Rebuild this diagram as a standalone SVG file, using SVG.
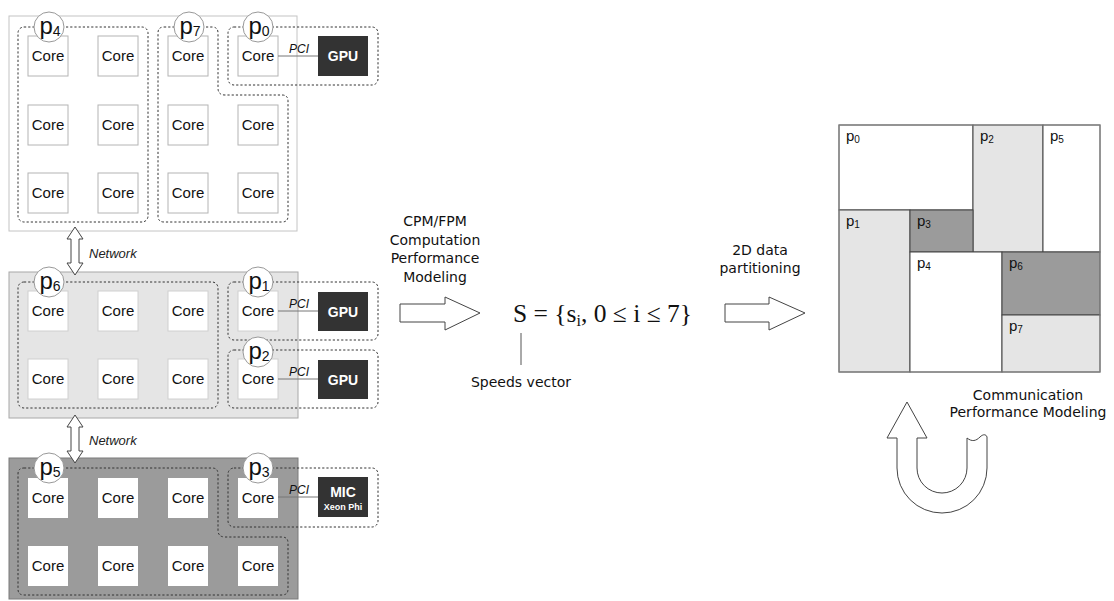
<svg xmlns="http://www.w3.org/2000/svg" width="1114" height="601" viewBox="0 0 1114 601">
<style>
.core{fill:#fff;stroke:#b4b4b4;stroke-width:1}
.ct{font-family:"Liberation Sans",Arial,sans-serif;font-size:15px;fill:#111;text-anchor:middle}
.reg{fill:none;stroke:#333;stroke-width:1;stroke-dasharray:2.2,2}
.pc{fill:#fff;stroke:#999;stroke-width:1}
.pl{font-family:"Liberation Sans",Arial,sans-serif;font-size:24px;fill:#111;text-anchor:middle}
.dev{fill:#333}
.dt{font-family:"Liberation Sans",Arial,sans-serif;font-weight:bold;font-size:14px;fill:#fff;text-anchor:middle}
.pci{font-family:"Liberation Sans",Arial,sans-serif;font-style:italic;font-size:12px;fill:#111}
.net{font-family:"Liberation Sans",Arial,sans-serif;font-style:italic;font-size:13px;fill:#222}
.wire{stroke:#777;stroke-width:1;fill:none}
.big{fill:#fff;stroke:#444;stroke-width:1}
.dj{font-family:"DejaVu Sans",sans-serif;font-size:14px;fill:#111;text-anchor:middle}
.part{stroke:#444;stroke-width:1}
.pp{font-family:"Liberation Sans",Arial,sans-serif;font-size:15px;fill:#111}
</style>

<g id="cluster-top">
<rect x="9" y="16" width="288" height="215" fill="#fff" stroke="#c4c4c4"/>
<rect class="core" x="28" y="36" width="40" height="40"/><text class="ct" x="48" y="61">Core</text>
<rect class="core" x="98" y="36" width="40" height="40"/><text class="ct" x="118" y="61">Core</text>
<rect class="core" x="168" y="36" width="40" height="40"/><text class="ct" x="188" y="61">Core</text>
<rect class="core" x="238" y="36" width="40" height="40"/><text class="ct" x="258" y="61">Core</text>
<rect class="core" x="28" y="105" width="40" height="40"/><text class="ct" x="48" y="130">Core</text>
<rect class="core" x="98" y="105" width="40" height="40"/><text class="ct" x="118" y="130">Core</text>
<rect class="core" x="168" y="105" width="40" height="40"/><text class="ct" x="188" y="130">Core</text>
<rect class="core" x="238" y="105" width="40" height="40"/><text class="ct" x="258" y="130">Core</text>
<rect class="core" x="28" y="173" width="40" height="40"/><text class="ct" x="48" y="198">Core</text>
<rect class="core" x="98" y="173" width="40" height="40"/><text class="ct" x="118" y="198">Core</text>
<rect class="core" x="168" y="173" width="40" height="40"/><text class="ct" x="188" y="198">Core</text>
<rect class="core" x="238" y="173" width="40" height="40"/><text class="ct" x="258" y="198">Core</text>
<rect class="dev" x="318" y="36" width="50" height="40"/><text class="dt" x="343" y="61">GPU</text>
<rect class="reg" x="18" y="27" width="130" height="195" rx="6"/>
<path class="reg" d="M164,27 H212 Q218,27 218,33 V88 Q218,95 225,95 H282 Q288,95 288,101 V216 Q288,222 282,222 H164 Q158,222 158,216 V33 Q158,27 164,27 Z"/>
<rect class="reg" x="228" y="27" width="150" height="58" rx="6"/>
<circle class="pc" cx="49" cy="27" r="15"/><text class="pl" x="50" y="34">p<tspan font-size="14" dy="2">4</tspan></text>
<circle class="pc" cx="189" cy="27" r="15"/><text class="pl" x="190" y="34">p<tspan font-size="14" dy="2">7</tspan></text>
<circle class="pc" cx="258" cy="27" r="15"/><text class="pl" x="259" y="34">p<tspan font-size="14" dy="2">0</tspan></text>
</g>

<g id="cluster-middle">
<rect x="9" y="272" width="289" height="146" fill="#e5e5e5" stroke="#a8a8a8"/>
<rect class="core" x="28" y="291" width="40" height="40" style="stroke:#d0d0d0"/><text class="ct" x="48" y="316">Core</text>
<rect class="core" x="98" y="291" width="40" height="40" style="stroke:#d0d0d0"/><text class="ct" x="118" y="316">Core</text>
<rect class="core" x="168" y="291" width="40" height="40" style="stroke:#d0d0d0"/><text class="ct" x="188" y="316">Core</text>
<rect class="core" x="238" y="291" width="40" height="40" style="stroke:#d0d0d0"/><text class="ct" x="258" y="316">Core</text>
<rect class="core" x="28" y="359" width="40" height="40" style="stroke:#d0d0d0"/><text class="ct" x="48" y="384">Core</text>
<rect class="core" x="98" y="359" width="40" height="40" style="stroke:#d0d0d0"/><text class="ct" x="118" y="384">Core</text>
<rect class="core" x="168" y="359" width="40" height="40" style="stroke:#d0d0d0"/><text class="ct" x="188" y="384">Core</text>
<rect class="core" x="238" y="359" width="40" height="40" style="stroke:#d0d0d0"/><text class="ct" x="258" y="384">Core</text>
<rect class="dev" x="318" y="292" width="50" height="39"/><text class="dt" x="343" y="317">GPU</text>
<rect class="dev" x="318" y="360" width="50" height="39"/><text class="dt" x="343" y="385">GPU</text>
<rect class="reg" x="18" y="282" width="200" height="126" rx="6"/>
<rect class="reg" x="228" y="282" width="150" height="58" rx="6"/>
<rect class="reg" x="228" y="350" width="150" height="58" rx="6"/>
<circle class="pc" cx="49" cy="282" r="15"/><text class="pl" x="50" y="289">p<tspan font-size="14" dy="2">6</tspan></text>
<circle class="pc" cx="258" cy="282" r="15"/><text class="pl" x="259" y="289">p<tspan font-size="14" dy="2">1</tspan></text>
<circle class="pc" cx="258" cy="352" r="15"/><text class="pl" x="259" y="359">p<tspan font-size="14" dy="2">2</tspan></text>
</g>

<g id="cluster-bottom">
<rect x="9" y="458" width="289" height="141" fill="#9b9b9b" stroke="#7a7a7a"/>
<rect x="28" y="478" width="40" height="40" fill="#fff"/><text class="ct" x="48" y="503">Core</text>
<rect x="98" y="478" width="40" height="40" fill="#fff"/><text class="ct" x="118" y="503">Core</text>
<rect x="168" y="478" width="40" height="40" fill="#fff"/><text class="ct" x="188" y="503">Core</text>
<rect x="238" y="478" width="40" height="40" fill="#fff"/><text class="ct" x="258" y="503">Core</text>
<rect x="28" y="546" width="40" height="40" fill="#fff"/><text class="ct" x="48" y="571">Core</text>
<rect x="98" y="546" width="40" height="40" fill="#fff"/><text class="ct" x="118" y="571">Core</text>
<rect x="168" y="546" width="40" height="40" fill="#fff"/><text class="ct" x="188" y="571">Core</text>
<rect x="238" y="546" width="40" height="40" fill="#fff"/><text class="ct" x="258" y="571">Core</text>
<rect class="dev" x="318" y="477" width="50" height="40"/>
<text class="dt" x="343" y="497">MIC</text>
<text class="dt" x="343" y="510" style="font-size:9px">Xeon Phi</text>
<path class="reg" d="M24,468 H212 Q218,468 218,474 V530 Q218,537 225,537 H282 Q288,537 288,543 V589 Q288,595 282,595 H24 Q18,595 18,589 V474 Q18,468 24,468 Z"/>
<rect class="reg" x="228" y="468" width="150" height="59" rx="6"/>
<circle class="pc" cx="49" cy="468" r="15"/><text class="pl" x="50" y="475">p<tspan font-size="14" dy="2">5</tspan></text>
<circle class="pc" cx="258" cy="468" r="15"/><text class="pl" x="259" y="475">p<tspan font-size="14" dy="2">3</tspan></text>
</g>

<g id="connectors">
<line class="wire" x1="278" y1="56" x2="318" y2="56"/><text class="pci" x="289" y="53">PCI</text>
<line class="wire" x1="278" y1="311" x2="318" y2="311"/><text class="pci" x="289" y="308">PCI</text>
<line class="wire" x1="278" y1="379" x2="318" y2="379"/><text class="pci" x="289" y="376">PCI</text>
<line class="wire" x1="278" y1="497" x2="318" y2="497"/><text class="pci" x="289" y="494">PCI</text>
<path class="big" d="M75,227 L83,239 L79,239 L79,263 L83,263 L75,275 L67,263 L71,263 L71,239 L67,239 Z"/>
<text class="net" x="89" y="258">Network</text>
<path class="big" d="M75,415 L83,427 L79,427 L79,451 L83,451 L75,463 L67,451 L71,451 L71,427 L67,427 Z"/>
<text class="net" x="89" y="445">Network</text>
<path class="big" d="M400,304 H445 V297 L480,313 L445,330 V322 H400 Z"/>
<path class="big" d="M725,304 H769 V297 L805,313 L769,330 V322 H725 Z"/>
<line x1="521" y1="333" x2="521" y2="365" stroke="#555" stroke-width="1"/>
<path class="big" d="M907,402 L927,438 L917,438 L917,468 A25,25 0 0 0 967,468 L967,438 C972,442 976,441 980,437 C983,434 986,434 987,437 L987,468 A45,45 0 0 1 897,468 L897,438 L887,438 Z"/>
</g>

<g id="labels">
<text class="dj" x="435" y="226">CPM/FPM</text>
<text class="dj" x="435" y="245">Computation</text>
<text class="dj" x="435" y="263">Performance</text>
<text class="dj" x="435" y="282">Modeling</text>
<text x="513" y="322" font-family="Liberation Serif,serif" font-size="25.5" fill="#111">S = {s<tspan font-size="16" dy="4">i</tspan><tspan dy="-4">, 0 ≤ i ≤ 7}</tspan></text>
<text class="dj" x="521" y="387">Speeds vector</text>
<text class="dj" x="760" y="255">2D data</text>
<text class="dj" x="760" y="273">partitioning</text>
<text class="dj" x="1028" y="400">Communication</text>
<text class="dj" x="1028" y="417">Performance Modeling</text>
</g>

<g id="partition">
<rect x="839" y="125" width="134" height="85" fill="#fff" class="part"/>
<rect x="973" y="125" width="70" height="127" fill="#e5e5e5" class="part"/>
<rect x="1043" y="125" width="57" height="127" fill="#fff" class="part"/>
<rect x="839" y="210" width="71" height="162" fill="#e5e5e5" class="part"/>
<rect x="910" y="210" width="63" height="42" fill="#9b9b9b" class="part"/>
<rect x="910" y="252" width="92" height="120" fill="#fff" class="part"/>
<rect x="1002" y="252" width="98" height="63" fill="#9b9b9b" class="part"/>
<rect x="1002" y="315" width="98" height="57" fill="#e5e5e5" class="part"/>
<rect x="839" y="125" width="261" height="247" fill="none" stroke="#888"/>
<text class="pp" x="846" y="141">p<tspan font-size="10" dy="2">0</tspan></text>
<text class="pp" x="980" y="141">p<tspan font-size="10" dy="2">2</tspan></text>
<text class="pp" x="1050" y="141">p<tspan font-size="10" dy="2">5</tspan></text>
<text class="pp" x="846" y="226">p<tspan font-size="10" dy="2">1</tspan></text>
<text class="pp" x="917" y="226">p<tspan font-size="10" dy="2">3</tspan></text>
<text class="pp" x="917" y="268">p<tspan font-size="10" dy="2">4</tspan></text>
<text class="pp" x="1009" y="268">p<tspan font-size="10" dy="2">6</tspan></text>
<text class="pp" x="1009" y="331">p<tspan font-size="10" dy="2">7</tspan></text>
</g>
</svg>
